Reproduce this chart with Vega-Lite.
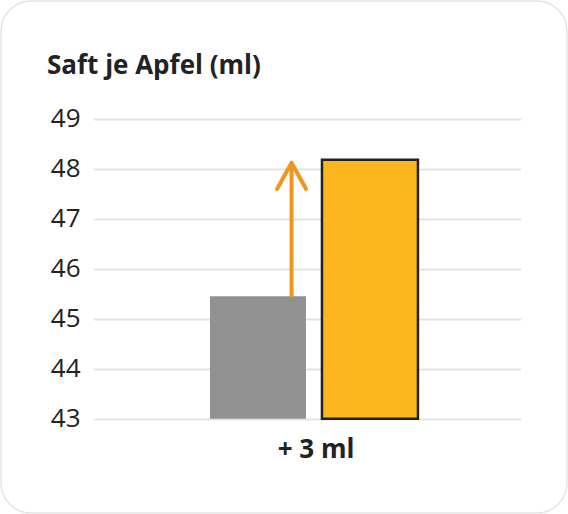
{
  "$schema": "https://vega.github.io/schema/vega-lite/v6.json",
  "width": 566,
  "height": 512,
  "autosize": "none",
  "padding": 1,
  "background": "white",
  "title": {
    "text": "Saft je Apfel (ml)",
    "anchor": "start",
    "frame": "group",
    "offset": 0,
    "baseline": "alphabetic",
    "dx": 46,
    "dy": 99,
    "font": "Open Sans",
    "fontSize": 26,
    "fontWeight": "bold",
    "color": "#222222"
  },
  "datasets": {
    "bars": [
      {"group": "vorher", "saft": 45.45},
      {"group": "nachher", "saft": 48.18}
    ],
    "arrow": [
      {"group": "vorher", "von": 45.47, "bis": 48.08, "spitze": 48.12}
    ]
  },
  "encoding": {
    "x": {
      "field": "group",
      "type": "nominal",
      "sort": ["vorher", "nachher"],
      "scale": {"range": [92.3, 520], "paddingInner": 0.143, "paddingOuter": 0.981, "align": 0.531},
      "axis": {
        "orient": "bottom",
        "offset": -94.3,
        "labels": false,
        "ticks": false,
        "domain": false,
        "grid": false,
        "title": "+ 3 ml",
        "titleFont": "Open Sans",
        "titleFontSize": 26,
        "titleFontWeight": "bold",
        "titleColor": "#222222",
        "titleBaseline": "alphabetic",
        "titlePadding": 39,
        "titleX": 314.5,
        "titleAlign": "center"
      }
    }
  },
  "layer": [
    {
      "data": {"name": "bars"},
      "mark": {"type": "bar"},
      "encoding": {
        "y": {
          "field": "saft",
          "type": "quantitative",
          "scale": {"domain": [41.114, 51.354], "nice": false, "zero": false},
          "axis": {
            "orient": "left",
            "offset": -81,
            "values": [43, 44, 45, 46, 47, 48, 49],
            "format": "d",
            "title": null,
            "domain": false,
            "ticks": false,
            "tickSize": 0,
            "labelPadding": 2,
            "labelFont": "Open Sans",
            "labelFontSize": 26,
            "labelColor": "#222222",
            "grid": true,
            "gridColor": "#e3e3e3",
            "gridWidth": 2
          }
        },
        "y2": {"datum": 43},
        "color": {
          "field": "group",
          "type": "nominal",
          "scale": {"domain": ["vorher", "nachher"], "range": ["#919191", "#fdb71e"]},
          "legend": null
        },
        "stroke": {
          "condition": {"test": "datum.group === 'nachher'", "value": "#222222"},
          "value": null
        },
        "strokeWidth": {"value": 2.5},
        "opacity": {"value": 1}
      }
    },
    {
      "data": {"name": "arrow"},
      "mark": {"type": "rule", "color": "#f0961e", "strokeWidth": 4, "strokeCap": "round"},
      "encoding": {
        "x": {"field": "group", "type": "nominal", "bandPosition": 0.85},
        "y": {"field": "von", "type": "quantitative"},
        "y2": {"field": "bis"}
      }
    },
    {
      "data": {"name": "arrow"},
      "mark": {
        "type": "point",
        "shape": "M-1,1.814L0,0L1,1.814",
        "filled": false,
        "stroke": "#f0961e",
        "strokeWidth": 4,
        "strokeCap": "round",
        "strokeJoin": "round",
        "size": 841,
        "opacity": 1
      },
      "encoding": {
        "x": {"field": "group", "type": "nominal", "bandPosition": 0.85},
        "y": {"field": "spitze", "type": "quantitative"}
      }
    }
  ],
  "config": {
    "view": {"stroke": "#e3e3e3", "strokeWidth": 1.5, "cornerRadius": 30, "fill": "white"}
  }
}
